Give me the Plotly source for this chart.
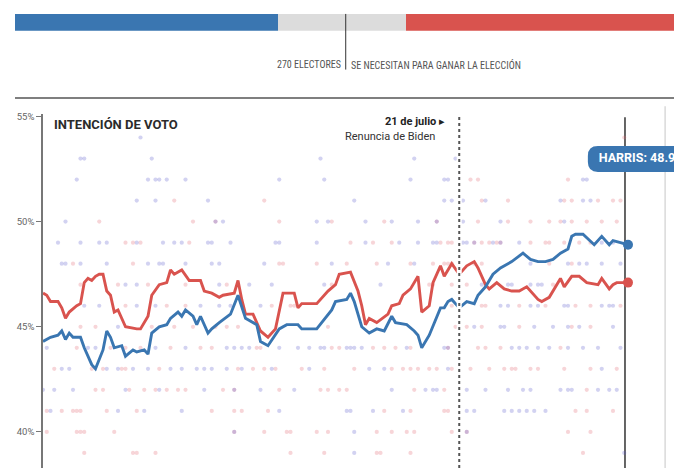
import plotly.graph_objects as go

# ---------------- DATA ----------------
# Electoral votes bar (total 538, 270 needed)
ev_groups = ["Harris", "Indecisos", "Trump"]
ev_votes = [215, 104, 219]
EV_NEEDED = 270

# Polling averages: day index counted from 2024-04-01 (day 0)
harris_days = [0, 2, 4, 5, 6, 7, 8, 10, 11, 13, 14, 16, 17, 18, 19, 21, 22, 24, 25, 27,
               28, 29, 31, 33, 34, 36, 37, 38, 40, 41, 42, 43, 44, 45, 47, 50, 52, 54, 57, 58,
               60, 63, 65, 68, 69, 73, 76, 77, 78, 81, 82, 83, 85, 87, 89, 91, 93, 94, 97, 99,
               100, 101, 103, 105, 106, 107, 108, 109, 111, 113, 115, 116, 118, 120, 122, 124, 125, 128, 130, 132,
               134, 136, 138, 140, 141, 142, 144, 147, 149, 151, 152, 154, 156]
harris_vals = [44.3, 44.5, 44.6, 44.8, 44.4, 44.7, 44.5, 44.5, 44.0, 43.2, 43.0, 43.9, 44.8, 44.5, 44.0, 44.1, 43.6, 43.9, 43.8, 43.9,
               43.7, 44.7, 45.0, 45.1, 45.4, 45.7, 45.5, 45.8, 45.5, 45.1, 45.5, 45.1, 44.7, 44.9, 45.2, 45.6, 46.5, 45.4, 45.1, 44.3,
               44.1, 44.9, 45.1, 45.1, 44.9, 44.9, 45.6, 45.8, 46.2, 46.3, 46.6, 46.2, 45.0, 44.7, 44.9, 44.8, 45.5, 45.2, 45.1, 44.8,
               44.6, 44.0, 44.6, 45.5, 45.9, 45.9, 46.2, 46.3, 45.9, 46.2, 46.1, 46.5, 46.9, 47.5, 47.8, 48.0, 48.1, 48.5, 48.2, 48.1,
               48.1, 48.2, 48.5, 48.7, 49.3, 49.4, 49.4, 48.9, 49.3, 48.9, 49.1, 49.0, 48.9]

trump_days = [0, 1, 2, 4, 5, 6, 7, 9, 10, 11, 12, 13, 14, 15, 16, 17, 18, 19, 20, 22,
              25, 26, 28, 29, 31, 33, 34, 35, 37, 39, 42, 43, 45, 47, 48, 51, 52, 53, 54, 56,
              58, 60, 62, 64, 67, 68, 69, 73, 76, 78, 79, 82, 84, 85, 86, 87, 89, 92, 93, 95,
              96, 98, 100, 101, 103, 104, 106, 107, 109, 111, 113, 115, 116, 118, 119, 121, 123, 125, 127, 129,
              132, 133, 135, 138, 139, 141, 143, 145, 148, 149, 151, 152, 153, 156]
trump_vals = [46.6, 46.5, 46.2, 46.2, 45.9, 45.4, 45.7, 46.0, 46.1, 47.1, 47.3, 47.2, 47.4, 47.5, 47.5, 46.7, 46.5, 45.7, 45.8, 45.0,
              44.9, 44.9, 45.5, 46.5, 47.0, 47.1, 47.7, 47.5, 47.7, 47.2, 47.2, 46.7, 46.6, 46.4, 46.5, 46.6, 47.2, 46.3, 45.6, 45.6,
              44.8, 44.5, 44.9, 46.6, 46.6, 45.9, 46.1, 46.1, 46.7, 47.0, 47.5, 47.6, 46.7, 46.0, 45.1, 45.4, 45.2, 45.6, 46.0, 46.1,
              46.5, 46.8, 47.4, 45.7, 46.0, 47.1, 47.9, 47.4, 48.0, 47.5, 47.9, 48.1, 47.8, 47.0, 46.8, 47.1, 46.8, 46.7, 46.7, 46.9,
              46.3, 46.2, 46.4, 47.3, 46.9, 47.4, 47.4, 47.1, 47.0, 47.3, 46.8, 47.0, 47.1, 47.1]

# Individual polls: (percentage, [days])
harris_polls = [
    (54, [26]),
    (53, [10, 11, 29, 74, 99, 110]),
    (52, [9, 28, 30, 31, 33, 38, 63, 75, 98, 107, 108, 144, 145]),
    (51, [25, 30, 44, 83, 107, 109, 112, 118, 138, 144, 146]),
    (50, [6, 46, 48, 73, 76, 86, 93, 100, 105, 112, 122, 139]),
    (49, [4, 10, 15, 17, 25, 32, 35, 37, 44, 45, 50, 62, 63, 73, 86, 95, 100, 104, 105, 112, 113, 115, 120, 122, 127, 149, 152]),
    (48, [5, 6, 10, 17, 28, 31, 32, 38, 45, 47, 59, 77, 92, 99, 130, 140, 143, 145, 149, 154]),
    (47, [22, 25, 47, 55, 61, 75, 90, 117, 124, 125, 130, 132, 133]),
    (46, [11, 15, 25, 30, 42, 47, 50, 58, 122, 124, 130, 132, 139, 140, 149, 151, 152]),
    (45, [20, 115, 122, 123, 131, 136, 140, 143, 152]),
    (44, [1, 12, 14, 30, 38, 49, 51, 53, 55, 63, 68, 71, 74, 75, 81, 82, 83, 85, 97, 107, 108, 111, 125, 127, 129, 132, 135, 140, 144, 148, 154]),
    (43, [5, 7, 17, 20, 24, 28, 34, 37, 41, 43, 45, 49, 53, 61, 71, 87, 91, 108, 149]),
    (42, [0, 3, 8, 22, 31, 43, 51, 58, 67, 93, 102, 104, 105, 113, 118, 124, 128, 130, 138, 140, 141, 148, 151, 153]),
    (41, [2, 20, 27, 37, 63, 81, 82, 88, 96, 113, 115, 123, 125, 127, 129, 131, 134]),
    (40, [51, 83, 113]),
    (39, [83, 155]),
]
trump_polls = [
    (54, [155]),
    (52, [114, 116, 140]),
    (51, [35, 59, 117, 124, 139, 141, 148, 152, 154]),
    (50, [15, 40, 46, 63, 77, 91, 105, 116, 124, 130, 135, 138, 141, 145, 149, 153]),
    (49, [22, 24, 26, 39, 82, 88, 93, 106, 108, 109, 115, 117, 119, 121, 122, 130, 134, 135, 139, 143, 146]),
    (48, [8, 24, 63, 64, 73, 81, 89, 98, 104, 107, 108, 109, 115, 117, 135, 141]),
    (47, [10, 20, 28, 38, 49, 77, 103, 104, 109, 111, 113, 136]),
    (46, [22, 33, 38, 61, 66, 67, 109, 111, 117, 118, 127, 134, 142, 146, 154]),
    (45, [10, 14, 29, 35, 40, 46, 49, 52, 76, 110, 113, 117, 127, 141, 146]),
    (44, [9, 18, 22, 26, 34, 42, 45, 57, 58, 77, 79, 88, 91, 94, 98, 108, 116, 118, 122, 138]),
    (43, [3, 13, 16, 21, 22, 31, 52, 56, 59, 62, 69, 75, 83, 93, 96, 98, 100, 103, 105, 109, 114, 119, 123, 125, 126, 130, 132, 139, 146, 153]),
    (42, [14, 16, 23, 27, 30, 33, 36, 38, 48, 51, 63, 74, 76, 79, 81, 99, 107, 145]),
    (41, [1, 5, 8, 9, 10, 17, 25, 45, 51, 53, 60, 91, 98, 107, 108, 142, 145, 152]),
    (40, [1, 9, 10, 11, 19, 51, 59, 65, 66, 73, 76, 89, 93, 97, 99, 109, 113, 140, 146]),
    (39, [11, 24, 25, 30, 66, 75, 89, 90, 98, 144]),
]

RESIGNATION_DAY = 111      # 21 de julio
TODAY_DAY = 155.2
y_ticks = [40, 45, 50, 55]
y_tick_labels = ["40%", "45%", "50%", "55%"]

# ---------------- STYLE ----------------
W, H = 690, 468
BLUE = "#3a76b1"
RED = "#d9534e"
GRAY_BAR = "#dcdcdc"
FONT = "Roboto, Arial, sans-serif"
NARROW = "Liberation Sans Narrow, Roboto Condensed, Roboto, sans-serif"


def py(p):  # pixel row -> paper y
    return 1 - p / H


def px(p):  # pixel col -> paper x
    return p / W


X_RANGE = [0, 168.27]
Y_RANGE = [38.285, 55.104]


def flatten(rows):
    xs, ys = [], []
    for pct, days in rows:
        for d in days:
            xs.append(d)
            ys.append(pct)
    return xs, ys


fig = go.Figure()

# Electoral bar
for name, v, c in zip(ev_groups, ev_votes, [BLUE, GRAY_BAR, RED]):
    fig.add_trace(go.Bar(x=[v], y=[0], orientation="h", width=1, marker=dict(color=c, line=dict(width=0)),
                         xaxis="x2", yaxis="y2", name=name, hoverinfo="skip"))

# Poll dots
tx, ty = flatten(trump_polls)
hx, hy = flatten(harris_polls)
fig.add_trace(go.Scatter(x=tx, y=ty, mode="markers", marker=dict(size=4.2, color="rgba(225,105,115,0.28)"),
                         hoverinfo="skip"))
fig.add_trace(go.Scatter(x=hx, y=hy, mode="markers", marker=dict(size=4.2, color="rgba(95,95,205,0.28)"),
                         hoverinfo="skip"))

# Averages
fig.add_trace(go.Scatter(x=trump_days, y=trump_vals, mode="lines", line=dict(color=RED, width=2.9)))
fig.add_trace(go.Scatter(x=harris_days, y=harris_vals, mode="lines", line=dict(color=BLUE, width=2.9)))
fig.add_trace(go.Scatter(x=[trump_days[-1]], y=[trump_vals[-1]], mode="markers",
                         marker=dict(size=10, color=RED), cliponaxis=False))
fig.add_trace(go.Scatter(x=[harris_days[-1]], y=[harris_vals[-1]], mode="markers",
                         marker=dict(size=10, color=BLUE), cliponaxis=False))

# Harris label (clipped at the right edge like the original)
bx0, bx1, by0, by1, rx, ry = 145.3, 180.0, 52.36, 53.59, 2.67, 0.47
box_path = (f"M {bx0+rx},{by1} L {bx1},{by1} L {bx1},{by0} L {bx0+rx},{by0} "
            f"Q {bx0},{by0} {bx0},{by0+ry} L {bx0},{by1-ry} Q {bx0},{by1} {bx0+rx},{by1} Z")
fig.add_trace(go.Scatter(x=[148.2], y=[(by0 + by1) / 2], mode="text",
                         text=[f"<b>HARRIS: {harris_vals[-1]:.1f}%</b>"], textposition="middle right",
                         textfont=dict(family=FONT, size=12.5, color="white"), cliponaxis=True))

shapes = [
    dict(type="line", xref="x", yref="paper", x0=TODAY_DAY, x1=TODAY_DAY, y0=0, y1=py(115),
         line=dict(color="#333", width=1.5), layer="below"),
    dict(type="path", xref="x", yref="y", path=box_path, fillcolor=BLUE, line=dict(width=0), layer="below"),
    dict(type="line", xref="x", yref="paper", x0=165.9, x1=165.9, y0=0, y1=py(104),
         line=dict(color="#d9d9d9", width=1.5), layer="below"),
    dict(type="line", xref="x", yref="paper", x0=RESIGNATION_DAY, x1=RESIGNATION_DAY, y0=0, y1=py(112),
         line=dict(color="white", width=5), layer="above"),
    dict(type="line", xref="x", yref="paper", x0=RESIGNATION_DAY, x1=RESIGNATION_DAY, y0=0, y1=py(112),
         line=dict(color="#555", width=2, dash="3px,3px"), layer="above"),
    dict(type="line", xref="paper", yref="paper", x0=px(15), x1=px(674), y0=py(95.5), y1=py(95.5),
         line=dict(color="#555", width=1.5)),
    dict(type="line", xref="x2", yref="paper", x0=EV_NEEDED, x1=EV_NEEDED, y0=py(11), y1=py(67),
         line=dict(color="#333", width=1), layer="above"),
]

annotations = [
    dict(xref="x2", yref="paper", x=EV_NEEDED, y=py(62), xanchor="right", yanchor="middle", xshift=-3,
         text="270 ELECTORES", showarrow=False, font=dict(family=NARROW, size=10, color="#555")),
    dict(xref="x2", yref="paper", x=EV_NEEDED, y=py(62), xanchor="left", yanchor="middle", xshift=3,
         text="SE NECESITAN PARA GANAR LA ELECCIÓN", showarrow=False, font=dict(family=NARROW, size=10, color="#555")),
    dict(xref="paper", yref="paper", x=px(52), y=py(122.5), xanchor="left", yanchor="middle",
         text="<b>INTENCIÓN DE VOTO</b>", showarrow=False, font=dict(family=FONT, size=13, color="#2b2b2b")),
    dict(xref="paper", yref="paper", x=px(447), y=py(119.5), xanchor="right", yanchor="middle",
         text="<b>21 de julio</b> ▸", showarrow=False, font=dict(family=FONT, size=11, color="#222")),
    dict(xref="paper", yref="paper", x=px(437), y=py(134), xanchor="right", yanchor="middle",
         text="Renuncia de Biden", showarrow=False, font=dict(family=FONT, size=11, color="#333")),
]

fig.update_layout(
    width=W, height=H, margin=dict(l=0, r=0, t=0, b=0),
    paper_bgcolor="white", plot_bgcolor="rgba(0,0,0,0)",
    showlegend=False, barmode="stack", hovermode=False,
    xaxis=dict(domain=[px(43), px(674)], range=X_RANGE, visible=False, anchor="y"),
    yaxis=dict(domain=[0, py(112)], range=Y_RANGE, tickvals=y_ticks, ticktext=y_tick_labels,
               ticks="outside", ticklen=5, tickwidth=1, tickcolor="#777", showline=True, linecolor="#777",
               linewidth=1.5, showgrid=False, zeroline=False, anchor="x",
               tickfont=dict(family=FONT, size=9.5, color="#666")),
    xaxis2=dict(domain=[px(15), px(674)], range=[0, sum(ev_votes)], visible=False, anchor="y2"),
    yaxis2=dict(domain=[py(28), py(11)], range=[-0.5, 0.5], visible=False, anchor="x2"),
    shapes=shapes, annotations=annotations,
)

fig.write_html(
    "out.html",
    config={"displayModeBar": False},
    post_script="document.body.style.margin='0';document.body.style.overflow='hidden';",
)
